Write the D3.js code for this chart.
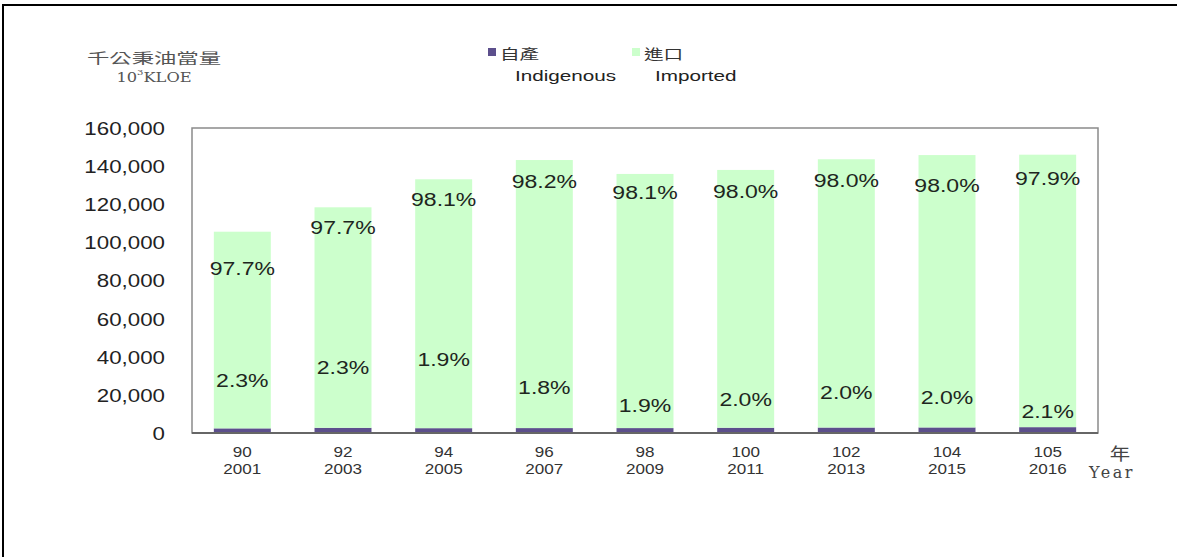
<!DOCTYPE html>
<html>
<head>
<meta charset="utf-8" />
<title>indigenous vs imported energy</title>
<style>
html, body {
	margin:0;
	padding:0;
	background:#ffffff;
}
svg {
	display:block;
	font-family: 'Liberation Sans', Arial, sans-serif;
}
</style>
</head>
<body>

<script type="text/javascript" src="https://cdn.jsdelivr.net/npm/d3@7/dist/d3.min.js"></script>

<script>

//=======================================
// data (10^3 KLOE)
//=======================================

let rocYears   = ['90','92','94','96','98','100','102','104','105'];
let adYears    = ['2001','2003','2005','2007','2009','2011','2013','2015','2016'];

let indigenous = [2430, 2720, 2530, 2580, 2580, 2760, 2870, 2920, 3070];
let imported   = [103170, 115680, 130570, 140620, 133320, 135240, 140730, 142880, 142930];

let pctIndigenous = ['2.3%','2.3%','1.9%','1.8%','1.9%','2.0%','2.0%','2.0%','2.1%'];
let pctImported   = ['97.7%','97.7%','98.1%','98.2%','98.1%','98.0%','98.0%','98.0%','97.9%'];

let yTicks = [0,20000,40000,60000,80000,100000,120000,140000,160000];


//=======================================
// layout
//=======================================

let W = 1177, H = 557,
		plot = {left:192, right:1098, top:128, bottom:433},
		colIndigenous = '#5c4f8c',
		colImported   = '#ccffcc',
		// hand-placed data labels in the original, px nudges
		topDy = [37,20,20,21,19,22,21,30,24],
		lowDy = [53,66,74,46,28,34,41,36,22];

let data = rocYears.map((d,i)=>({
	roc:d,
	ad:adYears[i],
	indigenous:indigenous[i],
	imported:imported[i],
	pLow:pctIndigenous[i],
	pTop:pctImported[i]
}));

let x = d3.scaleBand()
					.domain(rocYears)
					.range([plot.left, plot.right])
					.paddingInner(0.434)
					.paddingOuter(0.217);

let y = d3.scaleLinear()
					.domain([0,160000])
					.range([plot.bottom, plot.top]);

let stack = d3.stack().keys(['indigenous','imported'])(data);

let svg = d3.select('body').append('svg')
	.attr('width',W)
	.attr('height',H)
	.attr('viewBox',[0,0,W,H].join(' '));


// stretched text helper (source picture is wider than it is tall)
function txt(sel, px, py, s, opts)	{
	opts = opts || {};
	return sel.append('text')
		.attr('transform','translate('+[px,py]+') scale('+(opts.sx||1)+',1)')
		.attr('text-anchor', opts.anchor || 'start')
		.attr('dominant-baseline','central')
		.attr('font-size', opts.size || 14)
		.attr('font-family', opts.family || null)
		.attr('letter-spacing', opts.ls || null)
		.attr('fill', opts.fill || '#222')
		.text(s);
}


//=====================
// page frame
//=====================
svg.append('path')
	.attr('d','M3,'+H+'V5H'+W)
	.attr('fill','none')
	.attr('stroke','#000')
	.attr('stroke-width',2);


//=====================
// bars
//=====================
svg.append('g').attr('class','bars')
	.selectAll('g').data(stack)
		.join('g')
			.attr('fill',(d,i)=>i ? colImported : colIndigenous)
			.selectAll('rect').data(d=>d)
				.join('rect')
					.attr('x',d=>x(d.data.roc))
					.attr('width',x.bandwidth())
					.attr('y',d=>y(d[1]))
					.attr('height',d=>y(d[0])-y(d[1]));


//=====================
// plot frame
//=====================
svg.append('rect')
	.attr('x',plot.left)
	.attr('y',plot.top)
	.attr('width',plot.right-plot.left)
	.attr('height',plot.bottom-plot.top)
	.attr('fill','none')
	.attr('stroke','#8a8a8a')
	.attr('stroke-width',1.5);

svg.append('line')
	.attr('x1',plot.left).attr('x2',plot.right)
	.attr('y1',plot.bottom).attr('y2',plot.bottom)
	.attr('stroke','#666')
	.attr('stroke-width',2);


//=====================
// y axis
//=====================
let yAxis = d3.axisLeft(y)
	.tickValues(yTicks)
	.tickSize(0)
	.tickPadding(0)
	.tickFormat(d3.format(','));

svg.append('g')
	.attr('transform','translate('+[165,0]+')')
	.call(yAxis)
	.call(g=>{
		g.select('.domain').remove();
		g.selectAll('text')
			.attr('font-family',"'Liberation Sans', Arial, sans-serif")
			.attr('font-size',18)
			.attr('transform','scale(1.24,1)')
			.attr('fill','#222')
			.attr('dy','0.36em');
	});


//=====================
// x axis
//=====================
let xg = svg.append('g').attr('class','x-axis');
data.forEach(d=>{
	let cx = x(d.roc) + x.bandwidth()/2;
	txt(xg, cx, 452, d.roc,  {anchor:'middle', size:14, sx:1.22, fill:'#333'});
	txt(xg, cx, 469, d.ad,   {anchor:'middle', size:14, sx:1.22, fill:'#333'});
});

txt(svg, 1120, 452, '年', {anchor:'middle', size:17, sx:1.2, fill:'#444', family:"'Noto Sans CJK TC', sans-serif"});
txt(svg, 1112, 472, 'Year', {anchor:'middle', size:16, ls:2.5, fill:'#444', family:"'DejaVu Serif', serif"});


//=====================
// data labels
//=====================
let lg = svg.append('g').attr('class','labels');
data.forEach((d,i)=>{
	let cx = x(d.roc) + x.bandwidth()/2;
	txt(lg, cx, y(d.indigenous+d.imported)+topDy[i], d.pTop, {anchor:'middle', size:18, sx:1.28, fill:'#1e261e'});
	txt(lg, cx, y(0)-lowDy[i], d.pLow, {anchor:'middle', size:18, sx:1.28, fill:'#1e261e'});
});


//=====================
// unit title
//=====================
txt(svg, 154, 57, '千公秉油當量', {anchor:'middle', size:14, sx:1.6, fill:'#555', family:"'Noto Sans CJK TC', sans-serif"});
svg.append('text')
	.attr('transform','translate('+[154,77]+') scale(1.25,1)')
	.attr('text-anchor','middle')
	.attr('dominant-baseline','central')
	.attr('font-family',"'DejaVu Serif', serif")
	.attr('font-size',13)
	.attr('fill','#555')
	.call(t=>{
		t.append('tspan').text('10');
		t.append('tspan').attr('font-size',8).attr('dy',-5).text('3');
		t.append('tspan').attr('dy',5).text('KLOE');
	});


//=====================
// legend
//=====================
let legend = svg.append('g').attr('class','legend');
[
	{c:colIndigenous, zh:'自產', en:'Indigenous', x:488, ex:515},
	{c:colImported,   zh:'進口', en:'Imported',   x:632, ex:655},
].forEach(d=>{
	legend.append('rect')
		.attr('x',d.x).attr('y',48)
		.attr('width',8).attr('height',8)
		.attr('fill',d.c);
	txt(legend, d.x+12, 53, d.zh, {size:14, sx:1.4, fill:'#333', family:"'Noto Sans CJK TC', sans-serif"});
	txt(legend, d.ex, 76, d.en, {size:15, sx:1.38, fill:'#222'});
});

</script>
</body>
</html>
